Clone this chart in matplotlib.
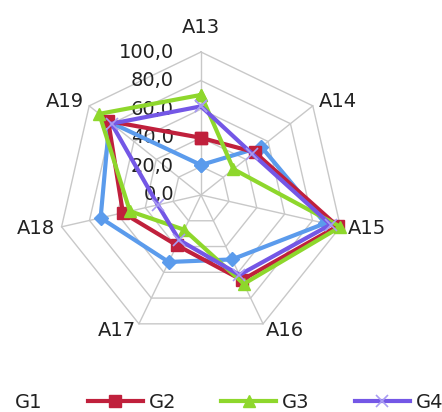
import numpy as np
import matplotlib
matplotlib.use("Agg")
import matplotlib.pyplot as plt

categories = ["A13", "A14", "A15", "A16", "A17", "A18", "A19"]
series_names = ["G1", "G2", "G3", "G4"]
g1 = [21, 54, 89, 50, 52, 72, 82]
g2 = [40, 48, 98, 66, 39, 56, 83]
g3 = [70, 29, 100, 69, 27, 51, 91]
g4 = [62, 46, 93, 62, 35, 31, 80]
ring_values = [0, 20, 40, 60, 80, 100]
ring_labels = ["0,0", "20,0", "40,0", "60,0", "80,0", "100,0"]

series = [g1, g2, g3, g4]
colors = ["#5b9bec", "#c0203c", "#8ed72c", "#7457e6"]
markers = ["D", "s", "^", "x"]
marker_sizes = [7, 8.5, 9, 8]
text_color = "#222222"
grid_color = "#c8c8c8"
FS = 14

W, H = 442, 412
fig = plt.figure(figsize=(W / 100, H / 100), dpi=100)
cx, cy, R = 201, 195, 143
ax = fig.add_axes([(cx - R) / W, (H - cy - R) / H, 2 * R / W, 2 * R / H],
                  projection="polar")
ax.set_theta_offset(np.pi / 2)
ax.set_theta_direction(-1)
ax.set_ylim(0, ring_values[-1])
ax.grid(False)
ax.spines["polar"].set_visible(False)
ax.set_xticks([])
ax.set_yticks([])
ax.patch.set_visible(False)

n = len(categories)
angles = np.arange(n) * 2 * np.pi / n
closed = np.append(angles, angles[0])

# polygonal grid rings and spokes
for rv in ring_values[1:]:
    ax.plot(closed, [rv] * (n + 1), color=grid_color, lw=1, zorder=1, clip_on=False)
for a in angles:
    ax.plot([a, a], [0, ring_values[-1]], color=grid_color, lw=1, zorder=1, clip_on=False)

# radial value labels along the top spoke
for rv, lab in zip(ring_values, ring_labels):
    ax.annotate(lab, xy=(0, rv), xytext=(-19.5, 0), textcoords="offset points",
                ha="right", va="center", fontsize=FS, color=text_color, zorder=2)

# category labels
for a, lab in zip(angles, categories):
    s = np.sin(a)
    if abs(s) < 0.1:
        ax.text(a, 117, lab, ha="center", va="center", fontsize=FS, color=text_color)
    else:
        ax.text(a, 105, lab, ha="left" if s > 0 else "right", va="center",
                fontsize=FS, color=text_color)

handles = []
for vals, c, m, ms, name in zip(series, colors, markers, marker_sizes, series_names):
    kw = dict(markeredgecolor=c, markerfacecolor=c)
    if m == "x":
        kw = dict(markeredgecolor="#a99cf2", markeredgewidth=1.2)
    (ln,) = ax.plot(closed, list(vals) + [vals[0]], color=c, lw=3, marker=m, ms=ms,
                    clip_on=False, zorder=3, label=name, **kw)
    handles.append(ln)

em = FS * 100 / 72
leg = fig.legend(handles=handles, labels=series_names, loc="center left",
                 bbox_to_anchor=(-46 / W, 10 / H), ncol=4, frameon=False, fontsize=FS,
                 handlelength=55 / em, handletextpad=6 / em, columnspacing=45 / em,
                 borderpad=0, borderaxespad=0, labelcolor=text_color)
# the first entry's key falls outside the canvas; only its label shows
leg.legend_handles[0].set_visible(False)

fig.savefig("out.png", dpi=100)
